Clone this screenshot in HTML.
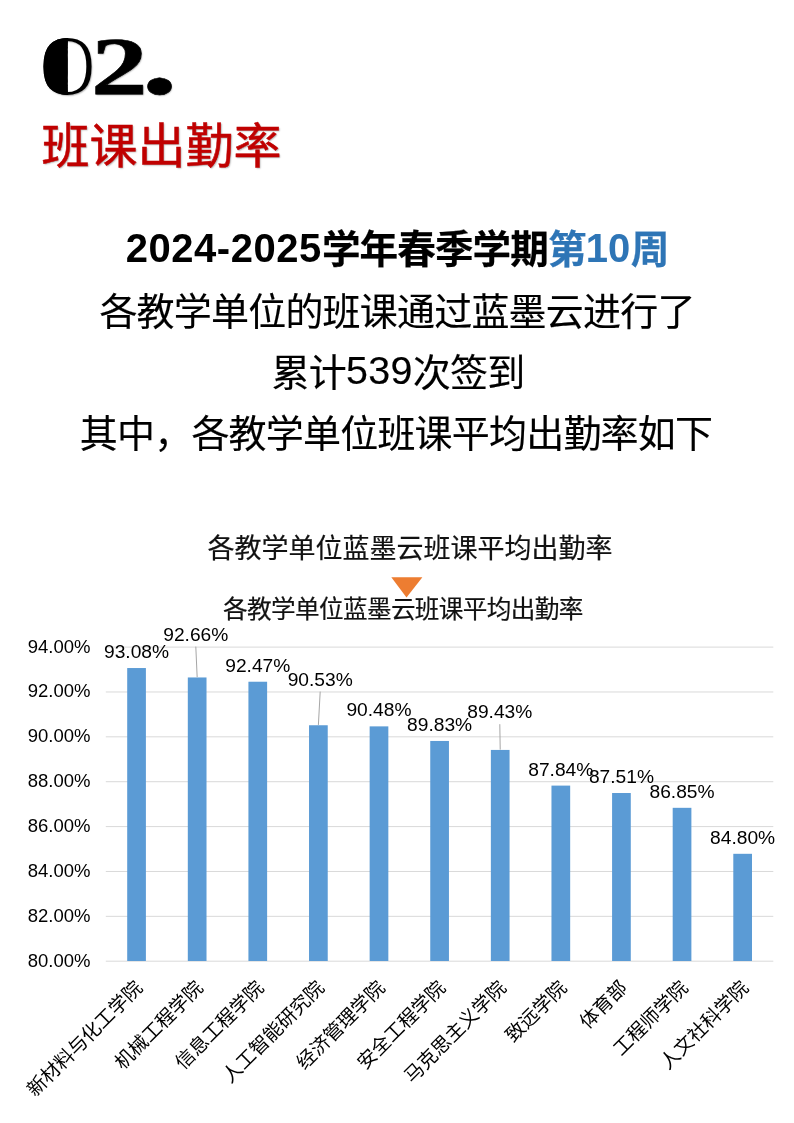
<!DOCTYPE html>
<html lang="zh-CN"><head><meta charset="utf-8"><title>班课出勤率</title>
<style>
html,body{margin:0;padding:0;background:#fff}
body{width:794px;height:1123px;position:relative;overflow:hidden;font-family:"Liberation Sans","Noto Sans CJK SC",sans-serif;color:#000}
.num{position:absolute;left:39px;top:9px;font-family:"Liberation Serif",serif;font-weight:bold;font-size:82px;line-height:100px;letter-spacing:-3.6px;-webkit-text-stroke:0.6px #000;transform-origin:0 0;transform:scaleX(1.38);white-space:nowrap;text-shadow:0.6px 0.9px 1.2px rgba(0,0,0,.3)}
.dot{font-size:106px;margin-left:-1px}
.z{display:inline-block;position:relative;font-family:"DejaVu Sans","Liberation Sans",sans-serif;font-weight:200;font-size:74.5px;letter-spacing:0;-webkit-text-stroke:0;transform:scaleX(1.03);margin:0 -6.9px 0 -2.8px}
.z::before{content:"0";position:absolute;left:0;top:0;clip-path:inset(0 50% 0 0);text-shadow:1.5px 0 0 #000,3px 0 0 #000,4.5px 0 0 #000,6px 0 0 #000,7.5px 0 0 #000,9px 0 0 #000,10.5px 0 0 #000,12px 0 0 #000,13.5px 0 0 #000,15px 0 0 #000,16.5px 0 0 #000,18px 0 0 #000}
.h{position:absolute;left:41.5px;top:119px;font-size:48px;line-height:56px;color:#c00000;font-weight:400;-webkit-text-stroke:0.5px #c00000;text-shadow:1px 1px 1.5px rgba(0,0,0,.3);white-space:nowrap}
.p{position:absolute;left:0;width:794px;text-align:center;font-size:38px;letter-spacing:-0.8px;-webkit-text-stroke:0.15px #000;line-height:60px;white-space:nowrap;font-family:"Liberation Sans","Noto Sans CJK SC",sans-serif}
.p b{font-weight:bold}
.blue{color:#2e75b6;-webkit-text-stroke-color:#2e75b6}
.p b{letter-spacing:-0.9px;font-size:38.6px;-webkit-text-stroke:0.25px currentColor}
.d1{font-size:40px;letter-spacing:0.55px;line-height:0;margin-right:0px;-webkit-text-stroke:0;position:relative;top:-1px}
.d2{font-size:40px;letter-spacing:0px;line-height:0;margin:0 0.5px 0 0;-webkit-text-stroke:0;position:relative;top:-1px}
.d3{font-size:39.4px;letter-spacing:0.4px;line-height:0;position:relative;top:-1.8px;margin-right:0px}
.t1{position:absolute;left:0;width:794px;text-align:center;top:532px;font-size:27px;line-height:34px;color:#111;-webkit-text-stroke:0.2px #111;white-space:nowrap;left:13px}
.t2{position:absolute;left:0;width:794px;text-align:center;top:594.1px;font-size:24.6px;letter-spacing:-0.6px;line-height:32px;color:#111;-webkit-text-stroke:0.2px #111;white-space:nowrap;left:5.9px}
svg text{font-family:"Liberation Sans","Noto Sans CJK SC",sans-serif;fill:#000}
.ax{font-size:18.5px}
.dl{font-size:19.2px}
.cat{font-size:19.2px}
</style></head><body>
<div class="num"><span class="z">0</span>2<span class="dot">.</span></div>
<div class="h">班课出勤率</div>
<div class="p" style="top:220px;left:0px"><b><span class="d1">2024-2025</span>学年春季学期<span class="blue">第<span class="d2">10</span>周</span></b></div>
<div class="p" style="top:282.3px">各教学单位的班课通过蓝墨云进行了</div>
<div class="p" style="top:343px;left:1px">累计<span class="d3">539</span>次签到</div>
<div class="p" style="top:403.5px;left:-1px">其中，各教学单位班课平均出勤率如下</div>
<div class="t1">各教学单位蓝墨云班课平均出勤率</div>
<svg width="794" height="1123" viewBox="0 0 794 1123" style="position:absolute;left:0;top:0">
<line x1="105.8" x2="773.3" y1="647.10" y2="647.10" stroke="#d9d9d9" stroke-width="1"/>
<text x="90.5" y="652.50" text-anchor="end" class="ax">94.00%</text>
<line x1="105.8" x2="773.3" y1="691.97" y2="691.97" stroke="#d9d9d9" stroke-width="1"/>
<text x="90.5" y="697.37" text-anchor="end" class="ax">92.00%</text>
<line x1="105.8" x2="773.3" y1="736.84" y2="736.84" stroke="#d9d9d9" stroke-width="1"/>
<text x="90.5" y="742.24" text-anchor="end" class="ax">90.00%</text>
<line x1="105.8" x2="773.3" y1="781.71" y2="781.71" stroke="#d9d9d9" stroke-width="1"/>
<text x="90.5" y="787.11" text-anchor="end" class="ax">88.00%</text>
<line x1="105.8" x2="773.3" y1="826.59" y2="826.59" stroke="#d9d9d9" stroke-width="1"/>
<text x="90.5" y="831.99" text-anchor="end" class="ax">86.00%</text>
<line x1="105.8" x2="773.3" y1="871.46" y2="871.46" stroke="#d9d9d9" stroke-width="1"/>
<text x="90.5" y="876.86" text-anchor="end" class="ax">84.00%</text>
<line x1="105.8" x2="773.3" y1="916.33" y2="916.33" stroke="#d9d9d9" stroke-width="1"/>
<text x="90.5" y="921.73" text-anchor="end" class="ax">82.00%</text>
<line x1="105.8" x2="773.3" y1="961.20" y2="961.20" stroke="#d9d9d9" stroke-width="1"/>
<text x="90.5" y="966.60" text-anchor="end" class="ax">80.00%</text>
<rect x="127.20" y="668.04" width="18.7" height="292.96" fill="#5b9bd5"/>
<rect x="187.81" y="677.46" width="18.7" height="283.54" fill="#5b9bd5"/>
<rect x="248.42" y="681.73" width="18.7" height="279.27" fill="#5b9bd5"/>
<rect x="309.03" y="725.25" width="18.7" height="235.75" fill="#5b9bd5"/>
<rect x="369.64" y="726.37" width="18.7" height="234.63" fill="#5b9bd5"/>
<rect x="430.25" y="740.96" width="18.7" height="220.04" fill="#5b9bd5"/>
<rect x="490.86" y="749.93" width="18.7" height="211.07" fill="#5b9bd5"/>
<rect x="551.47" y="785.60" width="18.7" height="175.40" fill="#5b9bd5"/>
<rect x="612.08" y="793.01" width="18.7" height="167.99" fill="#5b9bd5"/>
<rect x="672.69" y="807.82" width="18.7" height="153.18" fill="#5b9bd5"/>
<rect x="733.30" y="853.81" width="18.7" height="107.19" fill="#5b9bd5"/>
<line x1="195.8" y1="646.6" x2="197.16363636363639" y2="677.16" stroke="#a6a6a6" stroke-width="1"/>
<line x1="320.2" y1="691.6" x2="318.3818181818182" y2="724.95" stroke="#a6a6a6" stroke-width="1"/>
<line x1="499.8" y1="724.2" x2="500.20909090909095" y2="749.63" stroke="#a6a6a6" stroke-width="1"/>
<text x="136.55454545454546" y="658.1408571428572" text-anchor="middle" class="dl">93.08%</text>
<text x="195.8" y="640.6" text-anchor="middle" class="dl">92.66%</text>
<text x="257.77272727272725" y="671.8266428571429" text-anchor="middle" class="dl">92.47%</text>
<text x="320.2" y="685.6" text-anchor="middle" class="dl">90.53%</text>
<text x="378.9909090909091" y="716.4737142857142" text-anchor="middle" class="dl">90.48%</text>
<text x="439.6" y="731.0569285714286" text-anchor="middle" class="dl">89.83%</text>
<text x="499.8" y="718.2" text-anchor="middle" class="dl">89.43%</text>
<text x="560.8181818181819" y="775.704" text-anchor="middle" class="dl">87.84%</text>
<text x="621.4272727272728" y="783.1077857142856" text-anchor="middle" class="dl">87.51%</text>
<text x="682.0363636363637" y="797.9153571428573" text-anchor="middle" class="dl">86.85%</text>
<text x="742.6454545454546" y="843.9085714285715" text-anchor="middle" class="dl">84.80%</text>
<text transform="translate(143.55,989) rotate(-45)" text-anchor="end" class="cat">新材料与化工学院</text>
<text transform="translate(204.16,989) rotate(-45)" text-anchor="end" class="cat">机械工程学院</text>
<text transform="translate(264.77,989) rotate(-45)" text-anchor="end" class="cat">信息工程学院</text>
<text transform="translate(325.38,989) rotate(-45)" text-anchor="end" class="cat">人工智能研究院</text>
<text transform="translate(385.99,989) rotate(-45)" text-anchor="end" class="cat">经济管理学院</text>
<text transform="translate(446.60,989) rotate(-45)" text-anchor="end" class="cat">安全工程学院</text>
<text transform="translate(507.21,989) rotate(-45)" text-anchor="end" class="cat">马克思主义学院</text>
<text transform="translate(567.82,989) rotate(-45)" text-anchor="end" class="cat">致远学院</text>
<text transform="translate(628.43,989) rotate(-45)" text-anchor="end" class="cat">体育部</text>
<text transform="translate(689.04,989) rotate(-45)" text-anchor="end" class="cat">工程师学院</text>
<text transform="translate(749.65,989) rotate(-45)" text-anchor="end" class="cat">人文社科学院</text>
<polygon points="391.3,577.3 422.4,577.3 406.5,597.6" fill="#ed7d31"/>
</svg>
<div class="t2">各教学单位蓝墨云班课平均出勤率</div>
</body></html>
